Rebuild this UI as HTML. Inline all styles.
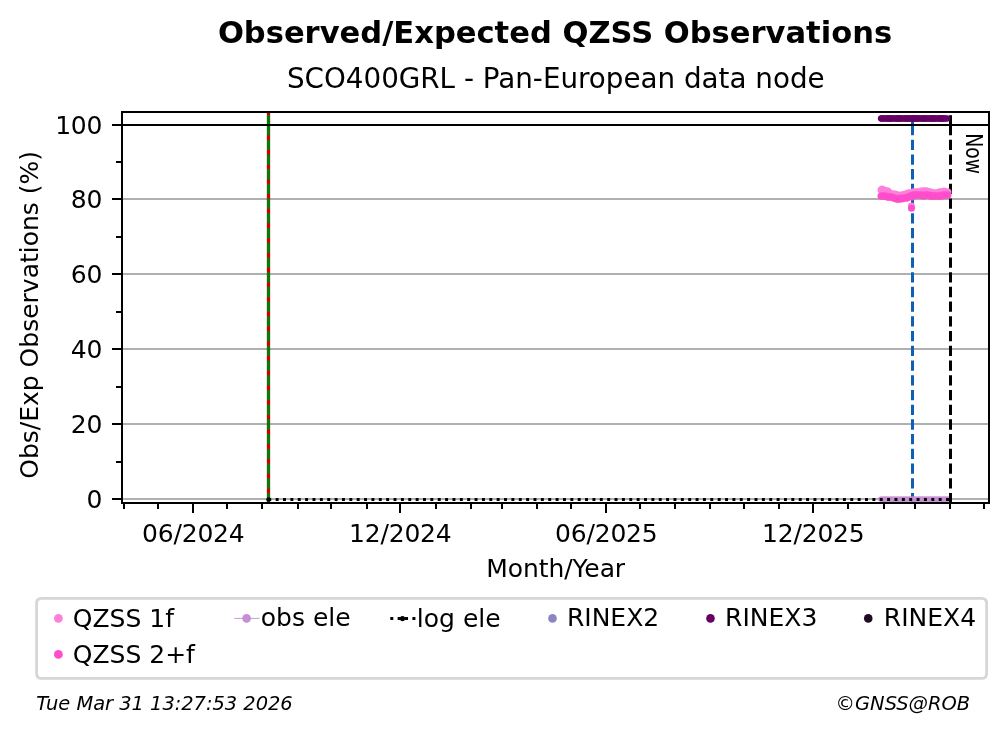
<!DOCTYPE html>
<html lang="en"><head><meta charset="utf-8"><title>Observed/Expected QZSS Observations</title>
<style>html,body{margin:0;padding:0;background:#fff}body{width:1008px;height:734px;overflow:hidden}</style></head>
<body>
<svg width="1008" height="734" viewBox="0 0 1008 734" style="display:block">
<rect width="1008" height="734" fill="#fff"/>
<g stroke="#b0b0b0" stroke-width="2">
<line x1="122.0" x2="989.0" y1="499.0" y2="499.0"/>
<line x1="122.0" x2="989.0" y1="424.0" y2="424.0"/>
<line x1="122.0" x2="989.0" y1="349.0" y2="349.0"/>
<line x1="122.0" x2="989.0" y1="274.0" y2="274.0"/>
<line x1="122.0" x2="989.0" y1="199.0" y2="199.0"/>
<line x1="122.0" x2="989.0" y1="125.0" y2="125.0"/>
</g>
<line x1="268.5" x2="268.5" y1="112.0" y2="503.0" stroke="#cc0000" stroke-width="3.3"/>
<line x1="268.5" x2="268.5" y1="115.2" y2="126" stroke="#008000" stroke-width="3"/>
<line x1="268.5" x2="268.5" y1="124.95" y2="503.0" stroke="#008000" stroke-width="3" stroke-dasharray="10.28 4.44"/>
<line x1="912.5" x2="912.5" y1="115.2" y2="126" stroke="#0d5fb8" stroke-width="3"/>
<line x1="912.5" x2="912.5" y1="124.95" y2="503.0" stroke="#0d5fb8" stroke-width="3" stroke-dasharray="10.28 4.44"/>
<g fill="#c58fd2">
<circle cx="880.70" cy="499.1" r="2.7"/>
<circle cx="881.83" cy="499.1" r="2.7"/>
<circle cx="882.96" cy="499.1" r="2.7"/>
<circle cx="884.09" cy="499.1" r="2.7"/>
<circle cx="885.23" cy="499.1" r="2.7"/>
<circle cx="886.36" cy="499.1" r="2.7"/>
<circle cx="887.49" cy="499.1" r="2.7"/>
<circle cx="888.62" cy="499.1" r="2.7"/>
<circle cx="889.75" cy="499.1" r="2.7"/>
<circle cx="890.88" cy="499.1" r="2.7"/>
<circle cx="892.01" cy="499.1" r="2.7"/>
<circle cx="893.14" cy="499.1" r="2.7"/>
<circle cx="894.28" cy="499.1" r="2.7"/>
<circle cx="895.41" cy="499.1" r="2.7"/>
<circle cx="896.54" cy="499.1" r="2.7"/>
<circle cx="897.67" cy="499.1" r="2.7"/>
<circle cx="898.80" cy="499.1" r="2.7"/>
<circle cx="899.93" cy="499.1" r="2.7"/>
<circle cx="901.06" cy="499.1" r="2.7"/>
<circle cx="902.19" cy="499.1" r="2.7"/>
<circle cx="903.33" cy="499.1" r="2.7"/>
<circle cx="904.46" cy="499.1" r="2.7"/>
<circle cx="905.59" cy="499.1" r="2.7"/>
<circle cx="906.72" cy="499.1" r="2.7"/>
<circle cx="907.85" cy="499.1" r="2.7"/>
<circle cx="908.98" cy="499.1" r="2.7"/>
<circle cx="910.11" cy="499.1" r="2.7"/>
<circle cx="911.24" cy="499.1" r="2.7"/>
<circle cx="912.38" cy="499.1" r="2.7"/>
<circle cx="913.51" cy="499.1" r="2.7"/>
<circle cx="914.64" cy="499.1" r="2.7"/>
<circle cx="915.77" cy="499.1" r="2.7"/>
<circle cx="916.90" cy="499.1" r="2.7"/>
<circle cx="918.03" cy="499.1" r="2.7"/>
<circle cx="919.16" cy="499.1" r="2.7"/>
<circle cx="920.29" cy="499.1" r="2.7"/>
<circle cx="921.43" cy="499.1" r="2.7"/>
<circle cx="922.56" cy="499.1" r="2.7"/>
<circle cx="923.69" cy="499.1" r="2.7"/>
<circle cx="924.82" cy="499.1" r="2.7"/>
<circle cx="925.95" cy="499.1" r="2.7"/>
<circle cx="927.08" cy="499.1" r="2.7"/>
<circle cx="928.21" cy="499.1" r="2.7"/>
<circle cx="929.34" cy="499.1" r="2.7"/>
<circle cx="930.48" cy="499.1" r="2.7"/>
<circle cx="931.61" cy="499.1" r="2.7"/>
<circle cx="932.74" cy="499.1" r="2.7"/>
<circle cx="933.87" cy="499.1" r="2.7"/>
<circle cx="935.00" cy="499.1" r="2.7"/>
<circle cx="936.13" cy="499.1" r="2.7"/>
<circle cx="937.26" cy="499.1" r="2.7"/>
<circle cx="938.39" cy="499.1" r="2.7"/>
<circle cx="939.53" cy="499.1" r="2.7"/>
<circle cx="940.66" cy="499.1" r="2.7"/>
<circle cx="941.79" cy="499.1" r="2.7"/>
<circle cx="942.92" cy="499.1" r="2.7"/>
<circle cx="944.05" cy="499.1" r="2.7"/>
<circle cx="945.18" cy="499.1" r="2.7"/>
<circle cx="946.31" cy="499.1" r="2.7"/>
<circle cx="947.44" cy="499.1" r="2.7"/>
<circle cx="948.31" cy="499.1" r="2.7"/>
</g>
<line x1="268.3" x2="950.5" y1="499.5" y2="499.5" stroke="#000" stroke-width="3" stroke-dasharray="2.95 4.417"/>
<circle cx="268.6" cy="499.5" r="2.3" fill="#000"/>
<line x1="950.5" x2="950.5" y1="115.2" y2="126" stroke="#000" stroke-width="3"/>
<line x1="950.5" x2="950.5" y1="124.95" y2="503.0" stroke="#000" stroke-width="3" stroke-dasharray="10.28 4.44"/>
<line x1="122.0" x2="989.0" y1="125" y2="125" stroke="#000" stroke-width="2"/>
<g fill="#660066">
<circle cx="881" cy="118.5" r="3.15"/>
<circle cx="882" cy="118.5" r="3.15"/>
<circle cx="883" cy="118.5" r="3.15"/>
<circle cx="884" cy="118.5" r="3.15"/>
<circle cx="886" cy="118.5" r="3.15"/>
<circle cx="887" cy="118.5" r="3.15"/>
<circle cx="888" cy="118.5" r="3.15"/>
<circle cx="889" cy="118.5" r="3.15"/>
<circle cx="890" cy="118.5" r="3.15"/>
<circle cx="891" cy="118.5" r="3.15"/>
<circle cx="892" cy="118.5" r="3.15"/>
<circle cx="893" cy="118.5" r="3.15"/>
<circle cx="895" cy="118.5" r="3.15"/>
<circle cx="896" cy="118.5" r="3.15"/>
<circle cx="897" cy="118.5" r="3.15"/>
<circle cx="898" cy="118.5" r="3.15"/>
<circle cx="899" cy="118.5" r="3.15"/>
<circle cx="900" cy="118.5" r="3.15"/>
<circle cx="901" cy="118.5" r="3.15"/>
<circle cx="902" cy="118.5" r="3.15"/>
<circle cx="904" cy="118.5" r="3.15"/>
<circle cx="905" cy="118.5" r="3.15"/>
<circle cx="906" cy="118.5" r="3.15"/>
<circle cx="907" cy="118.5" r="3.15"/>
<circle cx="908" cy="118.5" r="3.15"/>
<circle cx="909" cy="118.5" r="3.15"/>
<circle cx="910" cy="118.5" r="3.15"/>
<circle cx="912" cy="118.5" r="3.15"/>
<circle cx="913" cy="118.5" r="3.15"/>
<circle cx="914" cy="118.5" r="3.15"/>
<circle cx="915" cy="118.5" r="3.15"/>
<circle cx="916" cy="118.5" r="3.15"/>
<circle cx="917" cy="118.5" r="3.15"/>
<circle cx="918" cy="118.5" r="3.15"/>
<circle cx="919" cy="118.5" r="3.15"/>
<circle cx="921" cy="118.5" r="3.15"/>
<circle cx="922" cy="118.5" r="3.15"/>
<circle cx="923" cy="118.5" r="3.15"/>
<circle cx="924" cy="118.5" r="3.15"/>
<circle cx="925" cy="118.5" r="3.15"/>
<circle cx="926" cy="118.5" r="3.15"/>
<circle cx="927" cy="118.5" r="3.15"/>
<circle cx="929" cy="118.5" r="3.15"/>
<circle cx="930" cy="118.5" r="3.15"/>
<circle cx="931" cy="118.5" r="3.15"/>
<circle cx="932" cy="118.5" r="3.15"/>
<circle cx="933" cy="118.5" r="3.15"/>
<circle cx="934" cy="118.5" r="3.15"/>
<circle cx="935" cy="118.5" r="3.15"/>
<circle cx="936" cy="118.5" r="3.15"/>
<circle cx="938" cy="118.5" r="3.15"/>
<circle cx="939" cy="118.5" r="3.15"/>
<circle cx="940" cy="118.5" r="3.15"/>
<circle cx="941" cy="118.5" r="3.15"/>
<circle cx="942" cy="118.5" r="3.15"/>
<circle cx="943" cy="118.5" r="3.15"/>
<circle cx="944" cy="118.5" r="3.15"/>
<circle cx="945" cy="118.5" r="3.15"/>
<circle cx="947" cy="118.5" r="3.15"/>
</g>
<g fill="#ff80dc">
<circle cx="881" cy="190" r="3.5"/>
<circle cx="882" cy="189" r="3.5"/>
<circle cx="883" cy="190" r="3.5"/>
<circle cx="884" cy="190" r="3.5"/>
<circle cx="886" cy="191" r="3.5"/>
<circle cx="887" cy="191" r="3.5"/>
<circle cx="888" cy="191" r="3.5"/>
<circle cx="889" cy="193" r="3.5"/>
<circle cx="890" cy="193" r="3.5"/>
<circle cx="891" cy="194" r="3.5"/>
<circle cx="892" cy="194" r="3.5"/>
<circle cx="893" cy="194" r="3.5"/>
<circle cx="895" cy="194" r="3.5"/>
<circle cx="896" cy="195" r="3.5"/>
<circle cx="897" cy="195" r="3.5"/>
<circle cx="898" cy="195" r="3.5"/>
<circle cx="899" cy="196" r="3.5"/>
<circle cx="900" cy="196" r="3.5"/>
<circle cx="901" cy="195" r="3.5"/>
<circle cx="902" cy="195" r="3.5"/>
<circle cx="904" cy="196" r="3.5"/>
<circle cx="905" cy="194" r="3.5"/>
<circle cx="906" cy="195" r="3.5"/>
<circle cx="907" cy="194" r="3.5"/>
<circle cx="908" cy="193" r="3.5"/>
<circle cx="909" cy="193" r="3.5"/>
<circle cx="910" cy="193" r="3.5"/>
<circle cx="912" cy="193" r="3.5"/>
<circle cx="913" cy="192" r="3.5"/>
<circle cx="914" cy="192" r="3.5"/>
<circle cx="915" cy="192" r="3.5"/>
<circle cx="916" cy="192" r="3.5"/>
<circle cx="917" cy="192" r="3.5"/>
<circle cx="918" cy="192" r="3.5"/>
<circle cx="919" cy="192" r="3.5"/>
<circle cx="921" cy="191" r="3.5"/>
<circle cx="922" cy="192" r="3.5"/>
<circle cx="923" cy="191" r="3.5"/>
<circle cx="924" cy="191" r="3.5"/>
<circle cx="925" cy="191" r="3.5"/>
<circle cx="926" cy="191" r="3.5"/>
<circle cx="927" cy="191" r="3.5"/>
<circle cx="929" cy="192" r="3.5"/>
<circle cx="930" cy="192" r="3.5"/>
<circle cx="931" cy="192" r="3.5"/>
<circle cx="932" cy="193" r="3.5"/>
<circle cx="933" cy="193" r="3.5"/>
<circle cx="934" cy="193" r="3.5"/>
<circle cx="935" cy="193" r="3.5"/>
<circle cx="936" cy="193" r="3.5"/>
<circle cx="938" cy="193" r="3.5"/>
<circle cx="939" cy="192" r="3.5"/>
<circle cx="940" cy="192" r="3.5"/>
<circle cx="941" cy="192" r="3.5"/>
<circle cx="942" cy="192" r="3.5"/>
<circle cx="943" cy="192" r="3.5"/>
<circle cx="944" cy="191" r="3.5"/>
<circle cx="945" cy="192" r="3.5"/>
<circle cx="947" cy="192" r="3.5"/>
<circle cx="948" cy="192" r="3.5"/>
<circle cx="911.4" cy="206.1" r="3.5"/>
</g>
<g fill="#ff4dcc">
<circle cx="881" cy="196" r="3.5"/>
<circle cx="882" cy="196" r="3.5"/>
<circle cx="883" cy="196" r="3.5"/>
<circle cx="884" cy="196" r="3.5"/>
<circle cx="886" cy="196" r="3.5"/>
<circle cx="887" cy="197" r="3.5"/>
<circle cx="888" cy="197" r="3.5"/>
<circle cx="889" cy="197" r="3.5"/>
<circle cx="890" cy="197" r="3.5"/>
<circle cx="891" cy="197" r="3.5"/>
<circle cx="892" cy="197" r="3.5"/>
<circle cx="893" cy="198" r="3.5"/>
<circle cx="895" cy="198" r="3.5"/>
<circle cx="896" cy="199" r="3.5"/>
<circle cx="897" cy="199" r="3.5"/>
<circle cx="898" cy="199" r="3.5"/>
<circle cx="899" cy="199" r="3.5"/>
<circle cx="900" cy="199" r="3.5"/>
<circle cx="901" cy="198" r="3.5"/>
<circle cx="902" cy="199" r="3.5"/>
<circle cx="904" cy="198" r="3.5"/>
<circle cx="905" cy="198" r="3.5"/>
<circle cx="906" cy="198" r="3.5"/>
<circle cx="907" cy="198" r="3.5"/>
<circle cx="908" cy="197" r="3.5"/>
<circle cx="909" cy="197" r="3.5"/>
<circle cx="910" cy="196" r="3.5"/>
<circle cx="912" cy="197" r="3.5"/>
<circle cx="913" cy="195" r="3.5"/>
<circle cx="914" cy="195" r="3.5"/>
<circle cx="915" cy="195" r="3.5"/>
<circle cx="916" cy="195" r="3.5"/>
<circle cx="917" cy="195" r="3.5"/>
<circle cx="918" cy="195" r="3.5"/>
<circle cx="919" cy="195" r="3.5"/>
<circle cx="921" cy="195" r="3.5"/>
<circle cx="922" cy="195" r="3.5"/>
<circle cx="923" cy="196" r="3.5"/>
<circle cx="924" cy="196" r="3.5"/>
<circle cx="925" cy="195" r="3.5"/>
<circle cx="926" cy="195" r="3.5"/>
<circle cx="927" cy="195" r="3.5"/>
<circle cx="929" cy="195" r="3.5"/>
<circle cx="930" cy="196" r="3.5"/>
<circle cx="931" cy="196" r="3.5"/>
<circle cx="932" cy="196" r="3.5"/>
<circle cx="933" cy="196" r="3.5"/>
<circle cx="934" cy="196" r="3.5"/>
<circle cx="935" cy="196" r="3.5"/>
<circle cx="936" cy="196" r="3.5"/>
<circle cx="938" cy="196" r="3.5"/>
<circle cx="939" cy="196" r="3.5"/>
<circle cx="940" cy="196" r="3.5"/>
<circle cx="941" cy="196" r="3.5"/>
<circle cx="942" cy="196" r="3.5"/>
<circle cx="943" cy="195" r="3.5"/>
<circle cx="944" cy="195" r="3.5"/>
<circle cx="945" cy="195" r="3.5"/>
<circle cx="947" cy="195" r="3.5"/>
<circle cx="948" cy="195" r="3.5"/>
<circle cx="911.5" cy="208.35" r="3.5"/>
</g>
<rect x="122.0" y="112.0" width="867.0" height="391.0" fill="none" stroke="#000" stroke-width="2"/>
<g stroke="#000" stroke-width="2">
<line x1="112.0" x2="122.0" y1="499.0" y2="499.0"/>
<line x1="112.0" x2="122.0" y1="424.0" y2="424.0"/>
<line x1="112.0" x2="122.0" y1="349.0" y2="349.0"/>
<line x1="112.0" x2="122.0" y1="274.0" y2="274.0"/>
<line x1="112.0" x2="122.0" y1="199.0" y2="199.0"/>
<line x1="112.0" x2="122.0" y1="125.0" y2="125.0"/>
<line x1="116.0" x2="122.0" y1="462.0" y2="462.0"/>
<line x1="116.0" x2="122.0" y1="387.0" y2="387.0"/>
<line x1="116.0" x2="122.0" y1="312.0" y2="312.0"/>
<line x1="116.0" x2="122.0" y1="237.0" y2="237.0"/>
<line x1="116.0" x2="122.0" y1="162.0" y2="162.0"/>
<line x1="124.0" x2="124.0" y1="503.0" y2="509.0"/>
<line x1="158.0" x2="158.0" y1="503.0" y2="509.0"/>
<line x1="193.0" x2="193.0" y1="503.0" y2="513.0"/>
<line x1="227" x2="227" y1="503.0" y2="509.0"/>
<line x1="262.0" x2="262.0" y1="503.0" y2="509.0"/>
<line x1="298.0" x2="298.0" y1="503.0" y2="509.0"/>
<line x1="331" x2="331" y1="503.0" y2="509.0"/>
<line x1="367" x2="367" y1="503.0" y2="509.0"/>
<line x1="400.0" x2="400.0" y1="503.0" y2="513.0"/>
<line x1="436" x2="436" y1="503.0" y2="509.0"/>
<line x1="471" x2="471" y1="503.0" y2="509.0"/>
<line x1="502" x2="502" y1="503.0" y2="509.0"/>
<line x1="537" x2="537" y1="503.0" y2="509.0"/>
<line x1="571" x2="571" y1="503.0" y2="509.0"/>
<line x1="606.0" x2="606.0" y1="503.0" y2="513.0"/>
<line x1="640" x2="640" y1="503.0" y2="509.0"/>
<line x1="675" x2="675" y1="503.0" y2="509.0"/>
<line x1="710" x2="710" y1="503.0" y2="509.0"/>
<line x1="744" x2="744" y1="503.0" y2="509.0"/>
<line x1="779" x2="779" y1="503.0" y2="509.0"/>
<line x1="813.0" x2="813.0" y1="503.0" y2="513.0"/>
<line x1="848" x2="848" y1="503.0" y2="509.0"/>
<line x1="884.0" x2="884.0" y1="503.0" y2="509.0"/>
<line x1="915.0" x2="915.0" y1="503.0" y2="509.0"/>
<line x1="950.0" x2="950.0" y1="503.0" y2="509.0"/>
<line x1="984.0" x2="984.0" y1="503.0" y2="509.0"/>
</g>
<g font-family="DejaVu Sans, Liberation Sans, sans-serif" font-size="25px" fill="#000">
<text x="102.0" y="508.05" text-anchor="end" letter-spacing="-0.3">0</text>
<text x="102.0" y="433.05" text-anchor="end" letter-spacing="-0.3">20</text>
<text x="102.0" y="358.05" text-anchor="end" letter-spacing="-0.3">40</text>
<text x="102.0" y="283.05" text-anchor="end" letter-spacing="-0.3">60</text>
<text x="102.0" y="208.05" text-anchor="end" letter-spacing="-0.3">80</text>
<text x="102.0" y="134.05" text-anchor="end" letter-spacing="-0.3">100</text>
<text x="193.3" y="542" text-anchor="middle" letter-spacing="-0.2">06/2024</text>
<text x="400.3" y="542" text-anchor="middle" letter-spacing="-0.2">12/2024</text>
<text x="606.3" y="542" text-anchor="middle" letter-spacing="-0.2">06/2025</text>
<text x="813.3" y="542" text-anchor="middle" letter-spacing="-0.2">12/2025</text>
<text x="555.7" y="576.9" text-anchor="middle" letter-spacing="-0.1">Month/Year</text>
<text transform="translate(38.0 314.85) rotate(-90)" text-anchor="middle">Obs/Exp Observations (%)</text>
</g>
<text font-family="DejaVu Sans, Liberation Sans, sans-serif" font-size="23.6px" transform="translate(966.1 133.2) rotate(90) scale(0.795 1)">Now</text>
<text font-family="DejaVu Sans, Liberation Sans, sans-serif" font-size="30.56px" font-weight="bold" x="555.0" y="42.8" text-anchor="middle">Observed/Expected QZSS Observations</text>
<text font-family="DejaVu Sans, Liberation Sans, sans-serif" font-size="27.78px" x="555.8" y="87.9" text-anchor="middle">SCO400GRL - Pan-European data node</text>
<path d="M41.6 598.45 L981.6 598.45 Q986.6 598.45 986.6 603.45 L986.6 673.4 Q986.6 678.4 981.6 678.4 L41.6 678.4 Q36.6 678.4 36.6 673.4 L36.6 603.45 Q36.6 598.45 41.6 598.45 Z" fill="#fff" stroke="#d6d6d6" stroke-width="2.8"/>
<circle cx="58.4" cy="618.4" r="4.4" fill="#ff80dc"/>
<circle cx="58.4" cy="654.4" r="4.4" fill="#ff4dcc"/>
<line x1="234.25" x2="259.5" y1="618.4" y2="618.4" stroke="#c58fd2" stroke-width="0.9"/>
<circle cx="246.6" cy="618.4" r="4.3" fill="#c58fd2"/>
<line x1="390.3" x2="415.8" y1="618.5" y2="618.5" stroke="#000" stroke-width="3" stroke-dasharray="3 4.367"/>
<circle cx="402.5" cy="618.6" r="2.6" fill="#000"/>
<circle cx="552.5" cy="618.4" r="4.3" fill="#8c85c4"/>
<circle cx="710.5" cy="618.4" r="4.3" fill="#660066"/>
<circle cx="868.25" cy="618.4" r="4.3" fill="#1f0a24"/>
<g font-family="DejaVu Sans, Liberation Sans, sans-serif" font-size="25px" fill="#000">
<text x="72.75" y="626.75">QZSS 1f</text>
<text x="72.75" y="662.5">QZSS 2+f</text>
<text x="260.8" y="625.7">obs ele</text>
<text x="416.85" y="626.75">log ele</text>
<text x="566.9" y="625.75">RINEX2</text>
<text x="725.1" y="625.75">RINEX3</text>
<text x="883.8" y="625.75">RINEX4</text>
</g>
<g font-family="DejaVu Sans, Liberation Sans, sans-serif" font-size="19.44px" font-style="italic" fill="#000">
<text x="36.2" y="709.6" letter-spacing="-0.025">Tue Mar 31 13:27:53 2026</text>
<text x="835.6" y="710.3">©GNSS@ROB</text>
</g>
</svg>
</body></html>
